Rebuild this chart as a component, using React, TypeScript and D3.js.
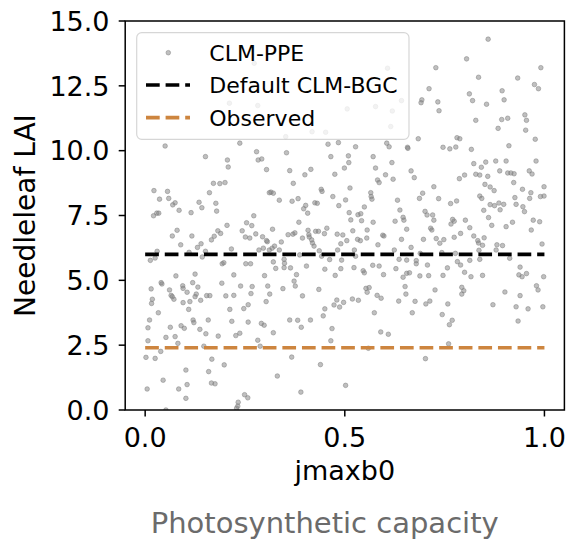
import React from "react";
import * as d3 from "d3";

// ---- data ----
const jmaxb0 = [
  0.273,0.211,0.282,0.050,0.237,0.607,0.642,0.577,0.619,0.506,0.615,0.352,0.418,0.452,0.458,0.484,0.527,0.605,0.611,0.657,
  0.859,0.805,0.728,0.991,0.835,0.933,0.711,0.975,0.985,0.812,0.894,0.693,0.691,0.733,0.820,0.899,0.855,0.736,0.828,0.893,
  0.908,0.951,0.955,0.884,0.953,0.684,0.781,0.788,0.977,0.658,0.746,0.763,0.778,0.817,0.911,
  0.151,0.206,0.279,0.283,0.292,0.208,0.304,0.171,0.187,0.200,0.022,0.056,0.161,0.311,0.036,0.059,0.075,0.069,0.135,0.177,
  0.142,0.179,0.085,0.115,0.021,0.029,0.034,0.272,0.254,0.267,0.205,0.080,0.182,0.189,0.243,0.068,0.117,0.173,0.166,0.251,
  0.262,0.277,0.294,0.304,0.089,0.140,0.131,0.216,0.030,0.110,0.151,0.285,0.296,0.013,0.025,0.143,0.193,0.197,0.252,0.264,
  0.077,0.125,0.222,0.299,
  0.354,0.465,0.509,0.510,0.571,0.618,0.362,0.415,0.400,0.475,0.499,0.577,0.602,0.371,0.582,0.586,0.621,0.513,0.441,0.443,
  0.315,0.321,0.565,0.566,0.568,0.470,0.383,0.368,0.336,0.502,0.632,0.425,0.431,0.402,0.397,0.485,0.549,0.638,0.407,0.511,
  0.533,0.540,0.646,0.515,0.542,0.648,0.385,0.626,0.571,0.655,0.319,0.455,0.520,0.556,0.408,0.427,0.434,0.449,0.370,0.375,
  0.358,0.410,0.411,0.481,0.495,0.595,0.598,0.642,0.394,0.417,0.505,0.532,0.539,0.555,0.306,0.324,0.341,0.419,0.423,0.490,
  0.583,0.318,0.311,0.336,0.436,0.482,0.524,0.624,0.387,0.442,0.527,0.348,0.655,0.462,0.492,0.636,0.349,0.321,0.570,0.586,
  0.327,0.364,0.348,0.404,0.450,0.490,0.523,0.546,0.549,0.628,0.379,0.476,0.597,0.646,0.655,
  0.823,0.853,0.878,0.904,0.979,0.842,0.888,0.666,0.674,0.787,0.800,0.828,0.838,0.858,0.908,0.916,0.924,0.962,0.969,0.923,
  0.851,0.864,0.874,0.723,0.695,0.945,0.966,0.999,0.687,0.735,0.838,0.843,0.926,0.963,0.990,0.999,0.780,0.765,0.864,0.875,
  0.886,0.898,0.929,0.946,0.848,0.889,0.701,0.706,0.720,0.950,0.723,0.770,0.774,0.802,0.860,0.766,0.920,0.972,0.988,0.868,
  0.904,0.813,0.715,0.718,0.967,0.790,0.774,0.823,0.849,0.697,0.729,0.748,0.738,0.833,0.835,0.845,0.881,0.895,0.994,0.666,
  0.879,0.836,0.689,0.743,0.777,0.679,0.679,0.782,0.790,0.813,0.838,0.913,0.707,0.757,0.939,0.662,0.688,0.710,0.746,0.800,
  0.816,0.845,0.936,0.944,0.955,0.998,
  0.015,0.040,0.042,0.061,0.065,0.068,0.072,0.094,0.095,0.105,0.119,0.132,0.128,0.125,0.095,0.112,0.139,0.154,0.162,0.192,
  0.202,0.222,0.239,0.268,0.265,0.303,0.307,0.018,0.016,0.033,0.109,0.212,0.247,0.258,0.011,0.007,0.120,0.122,0.158,0.217,
  0.258,0.291,0.298,0.063,0.090,0.098,0.137,0.152,0.237,0.227,0.183,0.052,0.075,0.007,0.082,0.147,0.282,0.288,0.039,0.002,
  0.025,0.167,0.198,0.102,0.159,0.045,0.105,0.166,0.175,0.005,0.084,0.249,0.257,0.102,0.233,0.232,0.229,0.052,
  0.312,0.345,0.373,0.376,0.394,0.435,0.473,0.480,0.487,0.497,0.519,0.534,0.450,0.446,0.553,0.556,0.561,0.581,0.591,0.635,
  0.653,0.651,0.574,0.362,0.382,0.414,0.391,0.468,0.321,0.590,0.609,0.465,0.559,0.367,0.439,0.331,0.502,0.390,
  0.676,0.703,0.713,0.726,0.669,0.744,0.758,0.769,0.762,0.793,0.798,0.793,0.871,0.901,0.939,0.980,0.984,0.929,0.959,0.996,
  0.934,0.760,0.702,
];

const needleleafLAI = [
  13.37,11.83,11.74,10.18,10.29,13.18,11.93,11.70,11.53,11.61,10.93,10.54,10.73,10.71,10.25,10.31,10.15,10.29,10.15,10.13,
  14.30,13.54,13.20,13.20,12.83,12.80,12.39,12.55,12.39,12.19,12.31,11.96,11.85,11.88,11.93,11.96,11.79,11.54,11.17,11.20,
  11.25,11.38,11.17,10.86,10.79,10.46,10.50,10.46,10.44,10.09,10.13,10.07,10.14,10.05,10.19,
  9.77,9.64,9.96,9.64,9.68,9.37,9.27,8.74,8.73,8.77,8.46,8.43,8.38,8.38,8.13,8.16,7.99,7.91,8.01,7.97,
  7.80,7.67,7.70,7.61,7.49,7.59,7.59,7.49,7.22,7.11,7.12,6.93,6.91,6.81,6.91,6.71,6.71,6.70,6.56,6.67,
  6.63,6.79,6.68,6.53,6.37,6.41,6.27,6.21,6.12,6.08,6.12,6.17,6.24,5.77,5.86,5.90,5.64,5.68,5.64,5.64,
  5.17,5.24,5.21,5.18,
  9.92,9.77,9.80,9.54,9.77,9.54,9.23,9.28,9.07,9.09,9.33,9.33,9.07,8.74,8.87,8.77,8.90,8.56,8.51,8.43,
  8.40,8.36,8.38,8.23,8.13,8.23,8.15,8.05,8.09,8.10,8.09,7.99,7.97,7.89,7.76,7.88,7.83,7.71,7.59,7.61,
  7.53,7.57,7.43,7.33,7.30,7.32,7.24,7.28,7.24,6.97,6.97,7.01,6.91,6.94,6.93,6.89,6.89,6.80,6.78,6.83,
  6.76,6.76,6.67,6.78,6.75,6.74,6.71,6.58,6.63,6.56,6.53,6.58,6.53,6.63,6.49,6.32,6.48,6.44,6.32,6.41,
  6.37,6.24,6.17,6.17,6.14,6.17,6.17,6.17,5.98,5.93,5.93,5.81,5.78,5.80,5.78,5.81,5.66,5.71,5.58,5.55,
  5.46,5.48,5.49,5.55,5.43,5.45,5.49,5.37,5.29,5.45,5.22,5.19,5.22,5.12,5.27,
  9.50,9.56,9.60,9.60,9.60,9.36,9.22,9.22,8.96,8.92,9.06,9.09,9.06,9.01,9.14,9.14,9.11,9.22,9.10,8.77,
  8.70,8.60,8.46,8.61,8.36,8.51,8.38,8.61,8.16,8.15,8.25,8.16,8.19,8.16,8.23,8.25,8.06,7.96,7.92,7.88,
  7.98,7.93,7.93,7.84,7.70,7.72,7.66,7.52,7.52,7.65,7.32,7.35,7.28,7.32,7.42,7.17,7.24,7.32,7.26,7.12,
  7.07,7.03,7.01,6.94,6.94,6.81,6.66,6.71,6.64,6.58,6.61,6.57,6.43,6.53,6.44,6.35,6.37,6.34,6.40,6.27,
  6.17,6.16,6.04,6.07,6.04,5.76,5.64,5.72,5.59,5.77,5.81,5.85,5.59,5.48,5.51,5.29,5.17,5.18,5.19,5.31,
  5.14,5.19,5.21,5.14,5.26,5.14,
  4.67,4.91,4.86,4.63,4.42,4.37,4.27,4.79,4.69,4.54,4.91,4.74,4.47,4.37,4.14,4.18,4.23,4.41,4.41,4.89,
  4.40,4.42,4.78,4.76,4.49,4.18,4.78,4.27,4.11,3.75,3.88,3.88,3.91,4.06,3.47,3.17,3.47,3.37,3.47,3.42,
  3.39,3.34,3.27,3.19,3.25,3.15,3.11,2.94,2.96,2.87,2.85,2.80,2.83,2.67,2.57,2.46,2.69,2.46,2.26,2.03,
  1.99,1.96,1.74,1.54,1.48,1.15,0.98,1.04,1.01,0.81,0.81,0.59,0.47,0.45,0.30,0.15,0.07,0.00,
  4.47,4.68,4.97,4.78,4.40,4.65,4.05,4.24,3.97,4.15,4.28,4.23,3.90,3.63,4.69,4.54,4.72,4.42,4.31,4.20,
  4.47,4.76,3.75,3.47,3.46,3.47,3.19,3.14,2.98,3.01,2.92,2.67,2.38,2.04,1.75,1.31,0.95,0.69,
  4.19,4.09,4.20,4.63,3.75,3.68,4.09,3.46,3.29,4.73,4.60,4.47,4.06,4.55,4.41,4.79,4.63,3.98,3.90,3.98,
  3.43,2.55,1.98,
];

const defaultCLMBGC = 6.0;
const observedLAI = 2.4;
const xTicks = [0.0, 0.5, 1.0];
const yTicks = [0, 2.5, 5, 7.5, 10, 12.5, 15];
const legendLabels = ["CLM-PPE", "Default CLM-BGC", "Observed"];
const xLabel = "jmaxb0";
const yLabel = "Needleleaf LAI";
const subtitle = "Photosynthetic capacity";

// ---- layout ----
const W = 572;
const H = 541;
const FONT = "'DejaVu Sans', sans-serif";
const left = 125.2, right = 564.4, top = 21, bottom = 410;

export default function App() {
  const x = d3.scaleLinear().domain([-0.05, 1.05]).range([left, right]);
  const y = d3.scaleLinear().domain([0, 15]).range([bottom, top]);
  const fmt = d3.format(".1f");
  const pts = jmaxb0.map((v, i) => [v, needleleafLAI[i]]);
  const dash = "13.7,5.9";
  const lw = 3.7;

  const lgX = 136.7, lgY = 32.7, lgW = 272.3, lgH = 106.6;
  const rows = [52.7, 85, 117.7];

  return (
    <svg
      width={W}
      height={H}
      viewBox={`0 0 ${W} ${H}`}
      style={{ position: "absolute", left: 0, top: 0, background: "#fff" }}
      fontFamily={FONT}
    >
      <rect x={0} y={0} width={W} height={H} fill="#fff" />
      <defs>
        <clipPath id="plotclip">
          <rect x={left} y={top} width={right - left} height={bottom - top} />
        </clipPath>
      </defs>

      <g clipPath="url(#plotclip)">
        {pts.map(([a, b], i) => (
          <circle
            key={i}
            cx={x(a)}
            cy={y(b)}
            r={2.3}
            fill="#808080"
            fillOpacity={0.5}
            stroke="#808080"
            strokeOpacity={0.5}
            strokeWidth={1}
          />
        ))}
        <line x1={x(0)} x2={x(1)} y1={y(defaultCLMBGC)} y2={y(defaultCLMBGC)}
          stroke="#000" strokeWidth={lw} strokeDasharray={dash} />
        <line x1={x(0)} x2={x(1)} y1={y(observedLAI)} y2={y(observedLAI)}
          stroke="#cd853f" strokeWidth={lw} strokeDasharray={dash} />
      </g>

      {/* spines */}
      <rect x={left} y={top} width={right - left} height={bottom - top}
        fill="none" stroke="#000" strokeWidth={1.5} />

      {/* x ticks */}
      {xTicks.map((t) => (
        <g key={"x" + t}>
          <line x1={x(t)} x2={x(t)} y1={bottom} y2={bottom + 6.5} stroke="#000" strokeWidth={1.5} />
          <text x={x(t)} y={446.7} textAnchor="middle" fontSize={27} fill="#000">{fmt(t)}</text>
        </g>
      ))}
      {/* y ticks */}
      {yTicks.map((t) => (
        <g key={"y" + t}>
          <line x1={left - 6.5} x2={left} y1={y(t)} y2={y(t)} stroke="#000" strokeWidth={1.5} />
          <text x={109.5} y={y(t) + 9.8} textAnchor="end" fontSize={27} fill="#000">{fmt(t)}</text>
        </g>
      ))}

      <text x={(left + right) / 2} y={480} textAnchor="middle" fontSize={27} fill="#000">{xLabel}</text>
      <text transform={`translate(35, ${(top + bottom) / 2}) rotate(-90)`} textAnchor="middle"
        fontSize={28} fill="#000">{yLabel}</text>
      <text x={150.7} y={533} textAnchor="start" fontSize={29} fill="#6b6b6b">{subtitle}</text>

      {/* legend */}
      <rect x={lgX} y={lgY} width={lgW} height={lgH} rx={5} ry={5}
        fill="#fff" fillOpacity={0.8} stroke="#cccccc" strokeOpacity={0.8} strokeWidth={1.2} />
      <circle cx={168.3} cy={rows[0]} r={2.3} fill="#808080" fillOpacity={0.5}
        stroke="#808080" strokeOpacity={0.5} strokeWidth={1} />
      <line x1={146} x2={190} y1={rows[1]} y2={rows[1]} stroke="#000" strokeWidth={lw} strokeDasharray={dash} />
      <line x1={146} x2={190} y1={rows[2]} y2={rows[2]} stroke="#cd853f" strokeWidth={lw} strokeDasharray={dash} />
      {legendLabels.map((l, i) => (
        <text key={l} x={209.3} y={rows[i] + 8} fontSize={22} fill="#000">{l}</text>
      ))}
    </svg>
  );
}
